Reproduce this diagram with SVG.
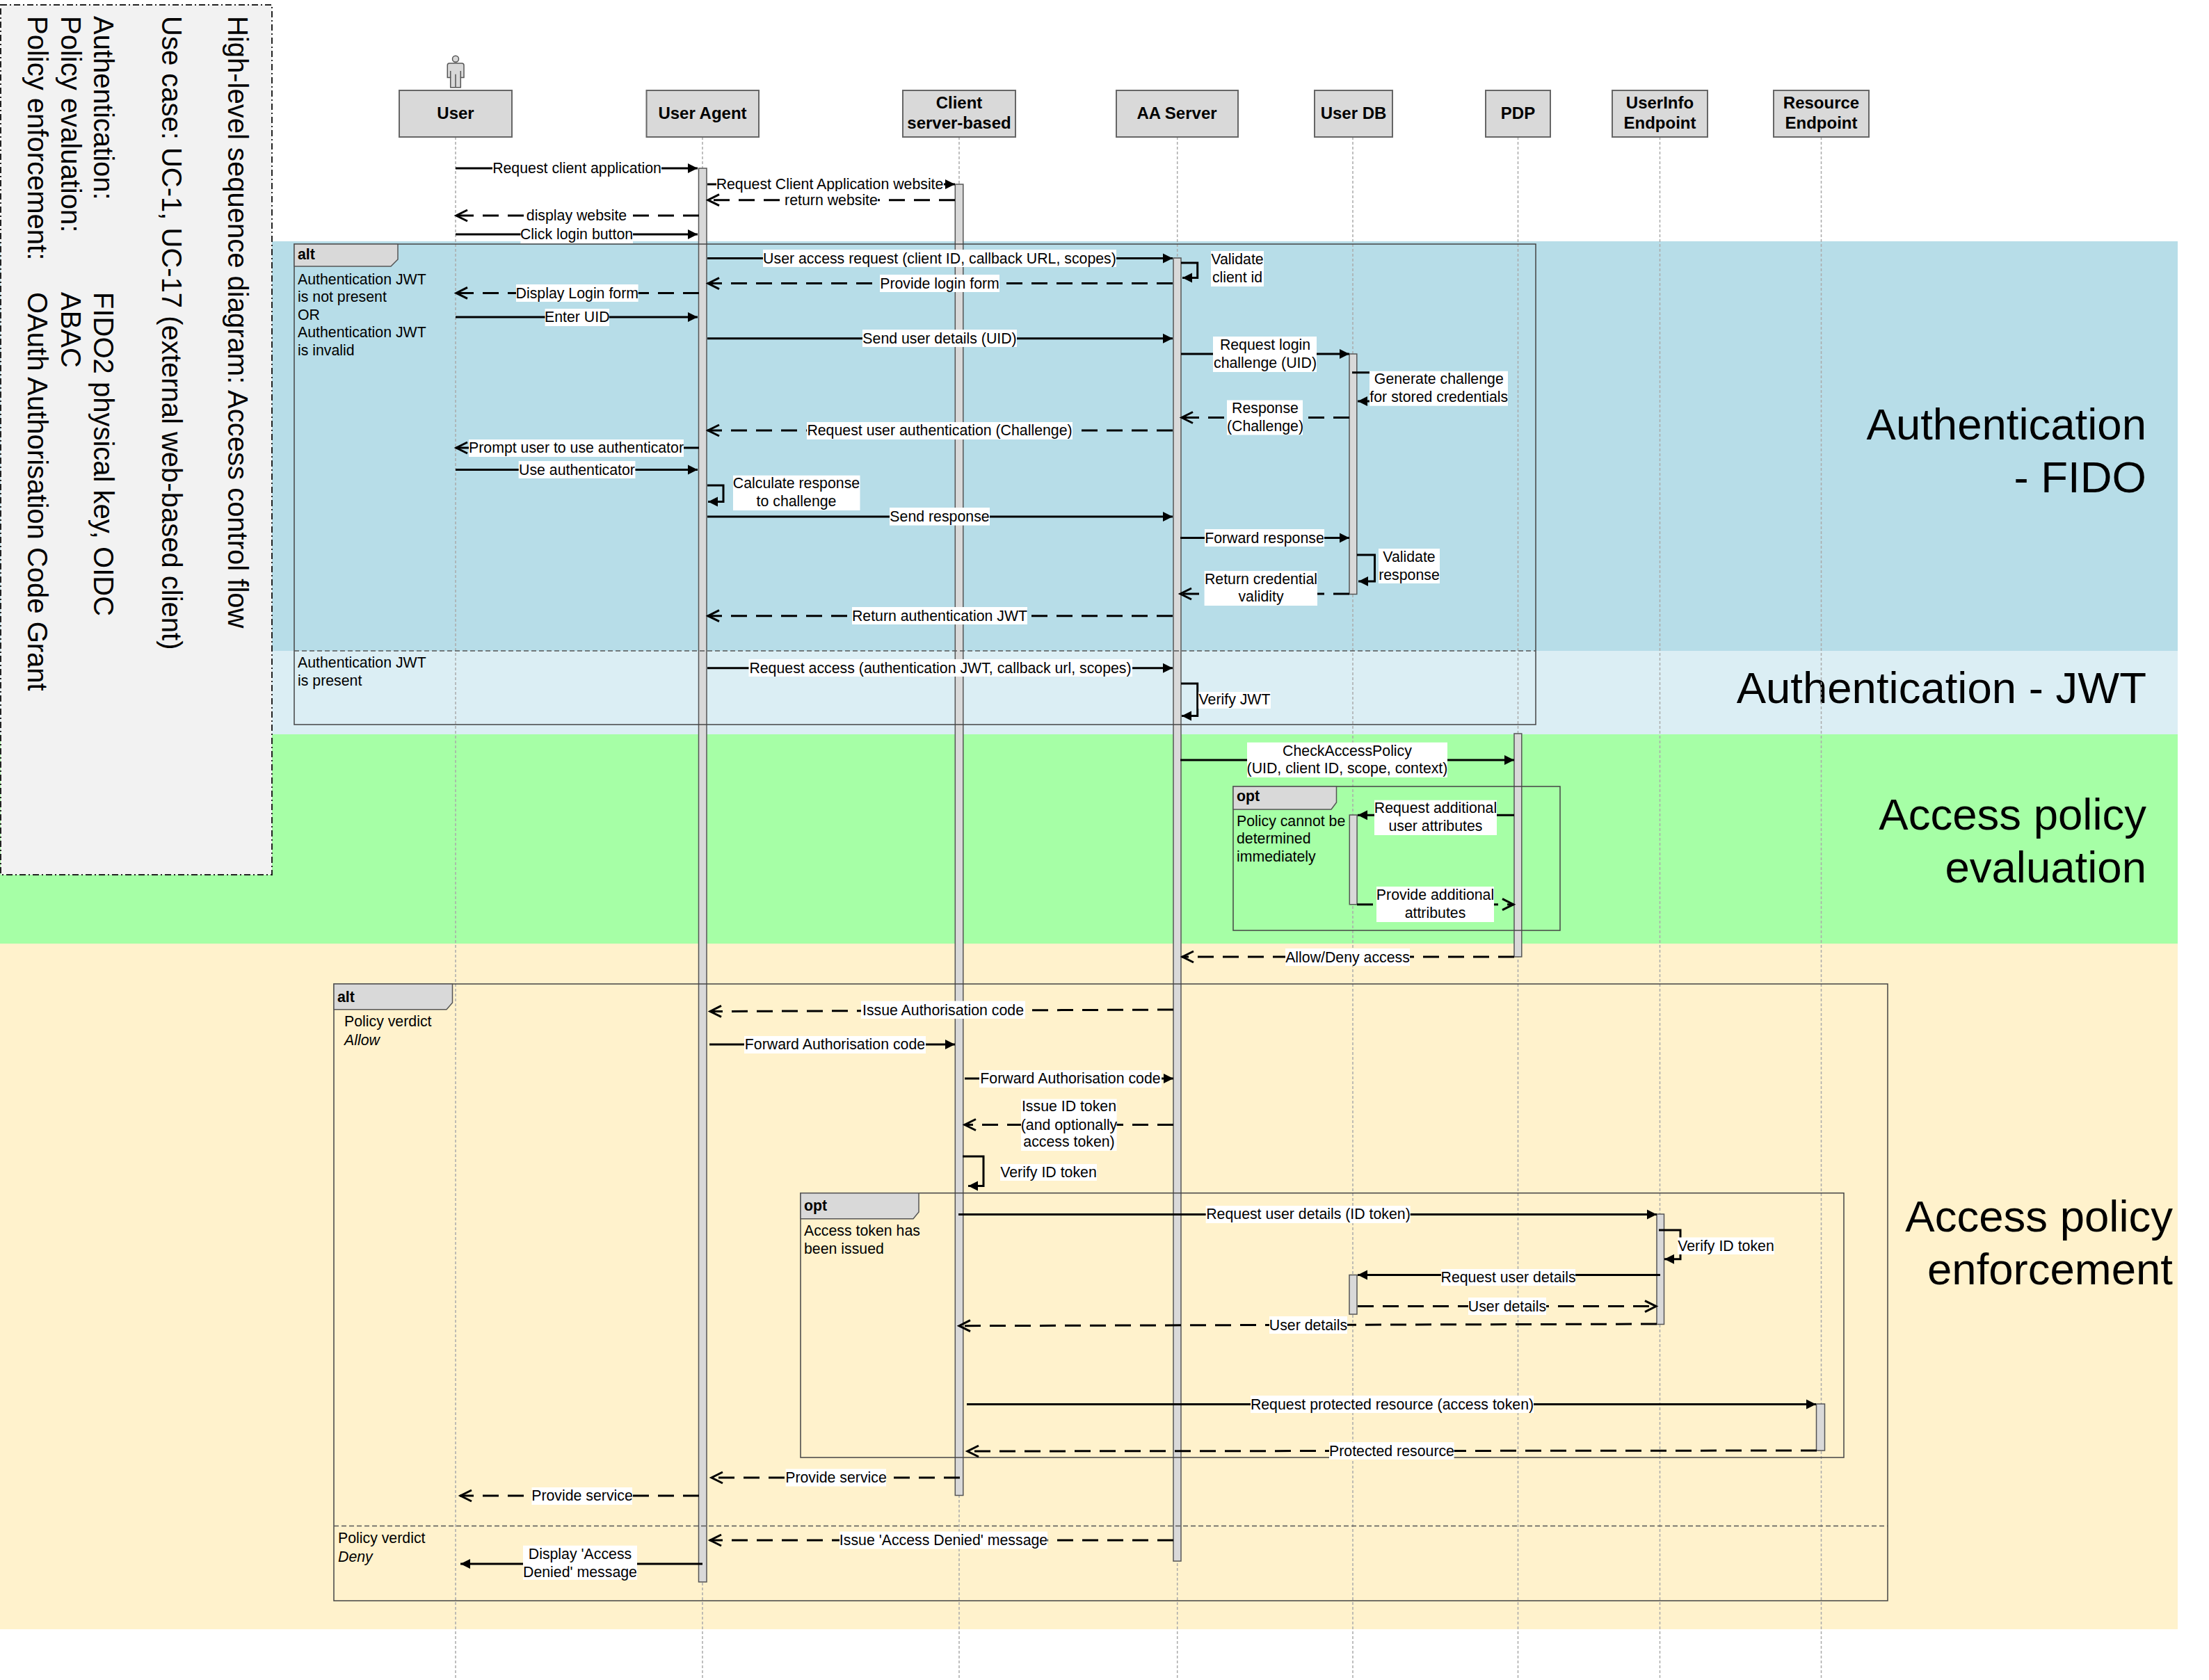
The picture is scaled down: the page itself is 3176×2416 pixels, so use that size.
<svg xmlns="http://www.w3.org/2000/svg" width="3176" height="2416" viewBox="0 0 3176 2416">
<style>
text{font-family:"Liberation Sans",Arial,sans-serif;fill:#000}
.hd{font-size:24px;font-weight:bold;text-anchor:middle}
.box{fill:#d9d9d9;stroke:#666;stroke-width:2}
.life{stroke:#aaa;stroke-width:1.5;stroke-dasharray:4 3;fill:none}
.act{fill:#d9d9d9;stroke:#555;stroke-width:1.5}
.fr{fill:none;stroke:#444;stroke-width:1.5}
.tab{fill:#d9d9d9;stroke:#555;stroke-width:1.5}
.div{stroke:#555;stroke-width:1.5;stroke-dasharray:7 4;fill:none}
.fb{font-size:21.3px;font-weight:bold}
.ft{font-size:21.3px}
.s{stroke:#000;stroke-width:3;fill:none;marker-end:url(#a)}
.d{stroke:#000;stroke-width:3;fill:none;stroke-dasharray:23 13;marker-end:url(#o)}
.so{stroke:#000;stroke-width:3;fill:none;marker-end:url(#o)}
.bg{fill:#fff}
.l{font-size:21.3px;text-anchor:middle}
.big{font-size:63.5px;text-anchor:end}
.note{font-size:40px}
</style>
<defs>
<marker id="a" markerUnits="userSpaceOnUse" markerWidth="16" markerHeight="16" refX="14" refY="8" orient="auto"><path d="M0 1L14 8L0 15Z" fill="#000"/></marker>
<marker id="o" markerUnits="userSpaceOnUse" markerWidth="22" markerHeight="22" refX="19" refY="10" orient="auto"><path d="M2 2L18 10L2 18" fill="none" stroke="#000" stroke-width="3"/></marker>
</defs>

<g id="bands">
<rect x="0" y="347" width="3131" height="589" fill="#b7dde8"/>
<rect x="0" y="936" width="3131" height="120" fill="#dbeef4"/>
<rect x="0" y="1056" width="3131" height="301" fill="#a6ffa6"/>
<rect x="0" y="1357" width="3131" height="986" fill="#fff2cc"/>
<text class="big" x="3086" y="632">Authentication</text>
<text class="big" x="3086" y="708">- FIDO</text>
<text class="big" x="3086" y="1011">Authentication - JWT</text>
<text class="big" x="3086" y="1193">Access policy</text>
<text class="big" x="3086" y="1269">evaluation</text>
<text class="big" x="3124" y="1771">Access policy</text>
<text class="big" x="3124" y="1847">enforcement</text>
</g>

<g id="note">
<rect x="1" y="7" width="390" height="1251" fill="#f2f2f2" stroke="#222" stroke-width="2" stroke-dasharray="9 4 2 4"/>
<text class="note" transform="translate(328 23) rotate(90)">High-level sequence diagram: Access control flow</text>
<text class="note" transform="translate(232.500 23) rotate(90)">Use case: UC-1, UC-17 (external web-based client)</text>
<text class="note" transform="translate(135 23) rotate(90)">Authentication:</text>
<text class="note" transform="translate(135 420) rotate(90)">FIDO2 physical key, OIDC</text>
<text class="note" transform="translate(87.500 23) rotate(90)">Policy evaluation:</text>
<text class="note" transform="translate(87.500 420) rotate(90)">ABAC</text>
<text class="note" transform="translate(40 23) rotate(90)">Policy enforcement:</text>
<text class="note" transform="translate(40 420) rotate(90)">OAuth Authorisation Code Grant</text>
</g>

<g id="user">
<path class="life" d="M655 197V2414"/>
<circle cx="655" cy="84.700" r="4.500" class="act"/>
<path class="act" d="M646 91H664Q667 91 667 94V111.500H662.300V125.700H647.700V111.500H643.300V94Q643.300 91 646 91Z"/>
<path d="M647.700 102V111.500M662.300 102V111.500M655 106.700V125.700" stroke="#555" stroke-width="1.500" fill="none"/>
<rect class="box" x="574" y="130" width="162" height="67"/>
<text class="hd" x="655" y="171">User</text>
</g>
<g id="user-agent">
<path class="life" d="M1010 197V2414"/>
<rect class="box" x="929.500" y="130" width="161.500" height="67"/>
<text class="hd" x="1010" y="171">User Agent</text>
<rect class="act" x="1004.500" y="242" width="11.500" height="2033"/>
</g>
<g id="client">
<path class="life" d="M1379 197V2414"/>
<rect class="box" x="1298" y="130" width="162" height="67"/>
<text class="hd" x="1379" y="156">Client</text>
<text class="hd" x="1379" y="185">server-based</text>
<rect class="act" x="1373.300" y="265" width="11.500" height="1885.500"/>
</g>
<g id="aa-server">
<path class="life" d="M1692.700 197V2414"/>
<rect class="box" x="1605" y="130" width="175" height="67"/>
<text class="hd" x="1692" y="171">AA Server</text>
<rect class="act" x="1687" y="371" width="11" height="1874"/>
</g>
<g id="user-db">
<path class="life" d="M1945 197V2414"/>
<rect class="box" x="1890" y="130" width="112" height="67"/>
<text class="hd" x="1946" y="171">User DB</text>
<rect class="act" x="1940" y="509" width="10.800" height="345.500"/>
<rect class="act" x="1940.300" y="1172" width="10.800" height="128.700"/>
<rect class="act" x="1940" y="1833.500" width="11" height="56.500"/>
</g>
<g id="pdp">
<path class="life" d="M2182.500 197V2414"/>
<rect class="box" x="2136" y="130" width="93" height="67"/>
<text class="hd" x="2182.500" y="171">PDP</text>
<rect class="act" x="2177" y="1055" width="10.800" height="321"/>
</g>
<g id="userinfo">
<path class="life" d="M2386.500 197V2414"/>
<rect class="box" x="2318" y="130" width="137" height="67"/>
<text class="hd" x="2386.500" y="156">UserInfo</text>
<text class="hd" x="2386.500" y="185">Endpoint</text>
<rect class="act" x="2382" y="1746" width="10.500" height="158.500"/>
</g>
<g id="resource">
<path class="life" d="M2618.500 197V2414"/>
<rect class="box" x="2550" y="130" width="137" height="67"/>
<text class="hd" x="2618.500" y="156">Resource</text>
<text class="hd" x="2618.500" y="185">Endpoint</text>
<rect class="act" x="2611.500" y="2019" width="12" height="67"/>
</g>

<g id="frame-alt-auth">
<rect class="fr" x="423" y="351" width="1785" height="691"/>
<path class="tab" d="M423 351H572V373L562 383H423Z"/>
<path class="div" d="M423 936H2208"/>
<text class="fb" x="428" y="373">alt</text>
<text class="ft" x="428" y="409">Authentication JWT</text>
<text class="ft" x="428" y="434">is not present</text>
<text class="ft" x="428" y="460">OR</text>
<text class="ft" x="428" y="485">Authentication JWT</text>
<text class="ft" x="428" y="511">is invalid</text>
<text class="ft" x="428" y="959.500">Authentication JWT</text>
<text class="ft" x="428" y="985.500">is present</text>
</g>
<g id="frame-opt-policy">
<rect class="fr" x="1773" y="1131" width="470" height="207"/>
<path class="tab" d="M1773 1131H1921.500V1154L1914 1164H1773Z"/>
<text class="fb" x="1778" y="1152">opt</text>
<text class="ft" x="1778" y="1188">Policy cannot be</text>
<text class="ft" x="1778" y="1213">determined</text>
<text class="ft" x="1778" y="1239">immediately</text>
</g>
<g id="frame-alt-verdict">
<rect class="fr" x="480" y="1415" width="2234" height="887"/>
<path class="tab" d="M480 1415H650.500V1442L642 1451.700H480Z"/>
<path class="div" d="M480 2194.600H2714"/>
<text class="fb" x="485" y="1441">alt</text>
<text class="ft" x="495" y="1476">Policy verdict</text>
<text class="ft" x="495" y="1502.500" font-style="italic">Allow</text>
<text class="ft" x="486" y="2219">Policy verdict</text>
<text class="ft" x="486" y="2245.500" font-style="italic">Deny</text>
</g>
<g id="frame-opt-token">
<rect class="fr" x="1151" y="1715.700" width="1500" height="380.300"/>
<path class="tab" d="M1151 1715.700H1321V1743L1313 1752.700H1151Z"/>
<text class="fb" x="1156" y="1741">opt</text>
<text class="ft" x="1156" y="1777">Access token has</text>
<text class="ft" x="1156" y="1803">been issued</text>
</g>

<g id="connectors">
<path class="s" d="M655 242H1003"/><rect class="bg" x="708" y="230" width="243" height="25"/><text class="l" x="829.500" y="249">Request client application</text>
<path class="s" d="M1017 265H1373"/><rect class="bg" x="1030" y="253" width="327" height="25"/><text class="l" x="1193" y="272">Request Client Application website</text>
<path class="d" d="M1373 287.700H1017"/><rect class="bg" x="1128" y="275" width="134" height="25"/><text class="l" x="1195" y="295">return website</text>
<path class="d" d="M1005 310H655"/><rect class="bg" x="756" y="298" width="145" height="25"/><text class="l" x="829" y="317">display website</text>
<path class="s" d="M655 337H1003"/><rect class="bg" x="748.500" y="325" width="161.500" height="25"/><text class="l" x="829" y="344">Click login button</text>
<path class="s" d="M1017 371.400H1686"/><rect class="bg" x="1097" y="359" width="508" height="25"/><text class="l" x="1351" y="378.500">User access request (client ID, callback URL, scopes)</text>
<path class="d" d="M1686 407.600H1017"/><rect class="bg" x="1265" y="395" width="172" height="25"/><text class="l" x="1351" y="414.500">Provide login form</text>
<path class="s" d="M1698 378H1721.700V399.500H1700"/><rect class="bg" x="1741" y="361" width="76" height="51"/><text class="l" x="1779" y="380">Validate</text><text class="l" x="1779" y="405.500">client id</text>
<path class="d" d="M1005 421.400H655"/><rect class="bg" x="742" y="409" width="175.600" height="25"/><text class="l" x="829.800" y="428.500">Display Login form</text>
<path class="s" d="M655 456H1003"/><rect class="bg" x="783.600" y="444" width="92.400" height="25"/><text class="l" x="829.800" y="463">Enter UID</text>
<path class="s" d="M1017 486.700H1686"/><rect class="bg" x="1240" y="474" width="222" height="25"/><text class="l" x="1351" y="494">Send user details (UID)</text>
<path class="s" d="M1698 509H1940"/><rect class="bg" x="1744" y="484" width="149" height="51"/><text class="l" x="1819" y="503">Request login</text><text class="l" x="1819" y="529">challenge (UID)</text>
<path class="s" d="M1944 535.700H1985V577H1952"/><rect class="bg" x="1969" y="533.700" width="199" height="50"/><text class="l" x="2068.800" y="552">Generate challenge</text><text class="l" x="2068.800" y="578">for stored credentials</text>
<path class="d" d="M1940 600.500H1698"/><rect class="bg" x="1764" y="575.500" width="109" height="50"/><text class="l" x="1819" y="594">Response</text><text class="l" x="1819" y="620">(Challenge)</text>
<path class="d" d="M1686 619H1017"/><rect class="bg" x="1160" y="607" width="382" height="25"/><text class="l" x="1351" y="626">Request user authentication (Challenge)</text>
<path class="so" d="M1005 644H655"/><rect class="bg" x="674" y="632" width="309" height="25"/><text class="l" x="828.500" y="651">Prompt user to use authenticator</text>
<path class="s" d="M655 675.400H1003"/><rect class="bg" x="745.700" y="663" width="167.700" height="25"/><text class="l" x="829.500" y="682.500">Use authenticator</text>
<path class="s" d="M1017 698H1040V721.400H1018"/><rect class="bg" x="1054" y="683.700" width="182.500" height="50.300"/><text class="l" x="1145" y="702">Calculate response</text><text class="l" x="1145" y="728">to challenge</text>
<path class="s" d="M1017 743H1686"/><rect class="bg" x="1279" y="730" width="144" height="25.600"/><text class="l" x="1351" y="750">Send response</text>
<path class="s" d="M1697 773.500H1940"/><rect class="bg" x="1732" y="761" width="172" height="25"/><text class="l" x="1818" y="780.500">Forward response</text>
<path class="s" d="M1951 798H1976.500V836H1953"/><rect class="bg" x="1982" y="789" width="88" height="50"/><text class="l" x="2026" y="808">Validate</text><text class="l" x="2026" y="833.500">response</text>
<path class="d" d="M1940 854H1696"/><rect class="bg" x="1731.600" y="821" width="162.400" height="50"/><text class="l" x="1813" y="840">Return credential</text><text class="l" x="1813" y="865">validity</text>
<path class="d" d="M1686 885.700H1017"/><rect class="bg" x="1225" y="873" width="252" height="25"/><text class="l" x="1351" y="893">Return authentication JWT</text>
<path class="s" d="M1017 960.700H1686"/><rect class="bg" x="1076.500" y="948" width="551.500" height="25"/><text class="l" x="1352" y="968">Request access (authentication JWT, callback url, scopes)</text>
<path class="s" d="M1698 983H1721.700V1029.600H1699"/><rect class="bg" x="1723" y="995" width="104" height="24"/><text class="l" x="1775" y="1013">Verify JWT</text>
<path class="s" d="M1697 1093H2177"/><rect class="bg" x="1793" y="1067.700" width="288" height="50.300"/><text class="l" x="1937" y="1087">CheckAccessPolicy</text><text class="l" x="1937" y="1112">(UID, client ID, scope, context)</text>
<path class="s" d="M2177 1172.300H1952"/><rect class="bg" x="1976" y="1150.700" width="176" height="50.300"/><text class="l" x="2064" y="1169">Request additional</text><text class="l" x="2064" y="1195">user attributes</text>
<path class="d" d="M1951 1300.700H2177"/><rect class="bg" x="1979" y="1275" width="169" height="51"/><text class="l" x="2063.500" y="1294">Provide additional</text><text class="l" x="2063.500" y="1320">attributes</text>
<path class="d" d="M2177 1376H1699"/><rect class="bg" x="1848" y="1364" width="179" height="25"/><text class="l" x="1937.500" y="1383.500">Allow/Deny access</text>
<path class="d" d="M1687 1452L1020 1454.500"/><rect class="bg" x="1238" y="1439.500" width="236" height="25.500"/><text class="l" x="1356" y="1459.500">Issue Authorisation code</text>
<path class="s" d="M1020 1502H1373"/><rect class="bg" x="1070" y="1490" width="261" height="25"/><text class="l" x="1200.500" y="1509">Forward Authorisation code</text>
<path class="s" d="M1387 1551H1687"/><rect class="bg" x="1408" y="1539" width="262" height="25"/><text class="l" x="1539" y="1558">Forward Authorisation code</text>
<path class="d" d="M1687 1617.500H1386"/><rect class="bg" x="1468" y="1580.500" width="137.600" height="74.500"/><text class="l" x="1537" y="1598">Issue ID token</text><text class="l" x="1537" y="1624.500">(and optionally</text><text class="l" x="1537" y="1649">access token)</text>
<path class="s" d="M1384 1663H1414V1705.500H1392"/><rect class="bg" x="1438" y="1674" width="139" height="24"/><text class="l" x="1507.500" y="1693">Verify ID token</text>
<path class="s" d="M1378 1746.400H2382"/><rect class="bg" x="1733.700" y="1734" width="294" height="25"/><text class="l" x="1881" y="1753">Request user details (ID token)</text>
<path class="s" d="M2385 1769H2416V1810.700H2393"/><rect class="bg" x="2412" y="1779.500" width="139" height="24.500"/><text class="l" x="2481.500" y="1798.500">Verify ID token</text>
<path class="s" d="M2387 1833.500H1952"/><rect class="bg" x="2072" y="1825" width="193" height="24"/><text class="l" x="2168.600" y="1844">Request user details</text>
<path class="d" d="M1952 1878.600H2382"/><rect class="bg" x="2111" y="1866" width="112" height="25"/><text class="l" x="2167" y="1885.500">User details</text>
<path class="d" d="M2382 1904L1378 1906.700"/><rect class="bg" x="1825" y="1893" width="112" height="25"/><text class="l" x="1881" y="1912.500">User details</text>
<path class="s" d="M1390 2019.600H2611"/><rect class="bg" x="1798" y="2007" width="407" height="25"/><text class="l" x="2001.500" y="2026.500">Request protected resource (access token)</text>
<path class="d" d="M2612 2086L1390 2087"/><rect class="bg" x="1911" y="2074" width="179.600" height="25"/><text class="l" x="2001" y="2093.500">Protected resource</text>
<path class="d" d="M1380 2125H1022"/><rect class="bg" x="1129.600" y="2112.500" width="144.400" height="25"/><text class="l" x="1202" y="2132">Provide service</text>
<path class="d" d="M1005 2151H661"/><rect class="bg" x="764.500" y="2139" width="144.500" height="25"/><text class="l" x="837" y="2158">Provide service</text>
<path class="d" d="M1687 2215H1020"/><rect class="bg" x="1207" y="2202.500" width="299" height="25"/><text class="l" x="1356.500" y="2222">Issue 'Access Denied' message</text>
<path class="s" d="M1010 2249H662"/><rect class="bg" x="752" y="2222.700" width="164" height="49.300"/><text class="l" x="834" y="2242">Display 'Access</text><text class="l" x="834" y="2268">Denied' message</text>
</g>
</svg>
